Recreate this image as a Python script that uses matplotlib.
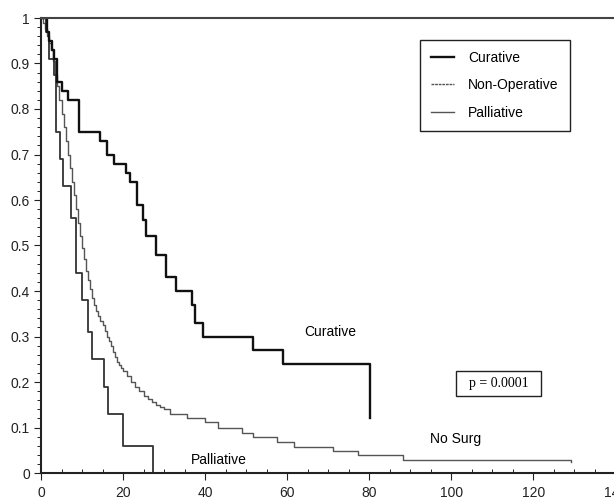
import matplotlib
matplotlib.use("Agg")
import matplotlib.pyplot as plt
from matplotlib.ticker import MultipleLocator, FuncFormatter
from matplotlib.lines import Line2D
from matplotlib.patches import Rectangle

plt.rcParams['font.family'] = ['Liberation Sans', 'DejaVu Sans']

# Kaplan-Meier step data (time, survival)
cur_t = [0, 1.4, 2.0, 2.6, 3.2, 3.9, 5.1, 6.6, 9.3, 14.4, 16.2, 17.8, 20.7, 21.7,
         23.4, 24.9, 25.6, 28.0, 30.4, 32.8, 36.9, 37.6, 39.5, 51.7, 59.0, 80.2]
cur_s = [1.0, 0.97, 0.95, 0.93, 0.91, 0.86, 0.84, 0.82, 0.75, 0.73, 0.70, 0.68, 0.66,
         0.64, 0.59, 0.555, 0.52, 0.48, 0.43, 0.40, 0.37, 0.33, 0.30, 0.27, 0.24, 0.12]

pal_t = [0, 1.2, 2.0, 3.2, 3.6, 4.6, 5.4, 7.3, 8.6, 9.9, 11.5, 12.4, 15.4, 16.4,
         20.0, 27.4, 28.0]
pal_s = [1.0, 0.97, 0.91, 0.875, 0.75, 0.69, 0.63, 0.56, 0.44, 0.38, 0.31, 0.25,
         0.19, 0.13, 0.06, 0.0, 0.0]

non_t = [0, 0.5, 1, 1.5, 2, 2.5, 3, 3.5, 4, 4.5, 5, 5.5, 6, 6.5, 7, 7.5, 8, 8.5,
         9, 9.5, 10, 10.5, 11, 11.5, 12, 12.5, 13, 13.5, 14, 14.5, 15, 15.5, 16,
         16.5, 17, 17.5, 18, 18.5, 19, 19.5, 20, 21, 22, 23, 24, 25, 26, 27, 28,
         29, 30, 31.5, 35.5, 40, 43.2, 49, 51.7, 57.6, 61.7, 71.2, 77.3, 88.3, 129.3]
non_s = [1.0, 0.99, 0.975, 0.96, 0.945, 0.93, 0.905, 0.875, 0.85, 0.82, 0.79,
         0.76, 0.73, 0.70, 0.67, 0.64, 0.61, 0.58, 0.55, 0.52, 0.495, 0.47, 0.445,
         0.425, 0.405, 0.385, 0.37, 0.355, 0.345, 0.335, 0.325, 0.312, 0.30, 0.29,
         0.28, 0.267, 0.255, 0.245, 0.237, 0.231, 0.225, 0.213, 0.20, 0.19, 0.18,
         0.17, 0.163, 0.157, 0.15, 0.145, 0.14, 0.13, 0.12, 0.112, 0.10, 0.088,
         0.079, 0.068, 0.058, 0.048, 0.039, 0.029, 0.025]

x_ticks = [0, 20, 40, 60, 80, 100, 120, 140]
y_ticks = [0, 0.1, 0.2, 0.3, 0.4, 0.5, 0.6, 0.7, 0.8, 0.9, 1.0]

fig = plt.figure(figsize=(6.14, 4.98), dpi=100)
ax = fig.add_axes([41/614, 1 - 473/498, 1 - 41/614 + 0.002, (473 - 18)/498])

ax.step(non_t, non_s, where='post', color='#555555', lw=1.0)
ax.step(pal_t, pal_s, where='post', color='#333333', lw=1.3)
ax.step(cur_t, cur_s, where='post', color='#111111', lw=1.7)

ax.set_xlim(0, 140)
ax.set_ylim(0, 1)
ax.set_xticks(x_ticks)
ax.set_yticks(y_ticks)
ax.xaxis.set_minor_locator(MultipleLocator(5))
ax.yaxis.set_minor_locator(MultipleLocator(0.02))
ax.yaxis.set_major_formatter(FuncFormatter(lambda v, p: f"{v:g}"))
ax.tick_params(axis='both', which='major', labelsize=10, direction='out',
               length=5, width=0.8, colors='#222222')
ax.tick_params(axis='x', which='minor', direction='in', length=3, width=0.6)
ax.tick_params(axis='y', which='minor', direction='out', length=3, width=0.6)
ax.tick_params(axis='x', pad=4)
ax.tick_params(axis='y', pad=3)

for s in ['left', 'bottom']:
    ax.spines[s].set_linewidth(1.5)
    ax.spines[s].set_color('#222222')
ax.spines['top'].set_linewidth(1.5)
ax.spines['top'].set_color('#444444')
ax.spines['right'].set_visible(False)

handles = [Line2D([], [], color='#111111', lw=1.7),
           Line2D([], [], color='#555555', lw=1.0, ls=(0, (2, 0.6))),
           Line2D([], [], color='#555555', lw=1.0)]
leg = ax.legend(handles, ['Curative', 'Non-Operative', 'Palliative'],
                loc='upper left', bbox_to_anchor=(420/614, 1 - 40/498),
                bbox_transform=fig.transFigure, fontsize=10, fancybox=False,
                edgecolor='#222222', framealpha=1, handlelength=1.65,
                handletextpad=1.0, labelspacing=0.95, borderpad=0.8,
                borderaxespad=0)
leg.get_frame().set_linewidth(1.0)

ax.text(70.5, 0.31, 'Curative', fontsize=10, ha='center', va='center')
ax.text(101, 0.075, 'No Surg', fontsize=10, ha='center', va='center')
ax.text(43.4, 0.028, 'Palliative', fontsize=10, ha='center', va='center')
ax.text(111.5, 0.197, 'p = 0.0001', fontsize=10, ha='center', va='center',
        family=['Liberation Serif', 'DejaVu Serif'])
fig.patches.append(Rectangle((456/614, 1 - 396/498), 85/614, 25/498,
                             transform=fig.transFigure, fill=False,
                             ec='#222222', lw=1.0))

fig.savefig('out.png', dpi=100)
